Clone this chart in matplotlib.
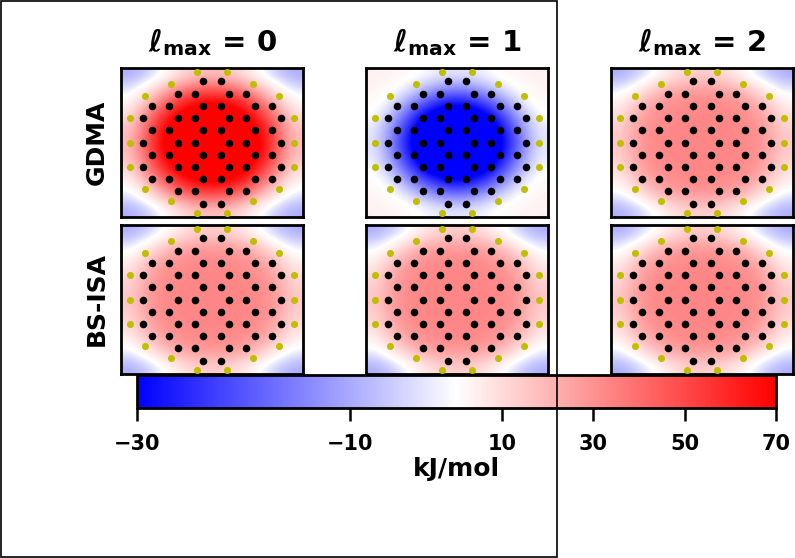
import numpy as np
import matplotlib
matplotlib.use("Agg")
import matplotlib.pyplot as plt
from matplotlib.colors import TwoSlopeNorm
from matplotlib.patches import Rectangle

# ---------------- data ----------------
col_titles = [r"$\ell_{max}$ = 0", r"$\ell_{max}$ = 1", r"$\ell_{max}$ = 2"]
row_labels = ["GDMA", "BS-ISA"]
cbar_ticks = [-30, -10, 10, 30, 50, 70]
cbar_label = "kJ/mol"

# circumcoronene atom positions (Angstrom)
carbon_x = [-0.71, 0.71,
            -2.84, -1.42, 1.42, 2.84,
            -4.97, -3.55, -0.71, 0.71, 3.55, 4.97,
            -5.68, -2.84, -1.42, 1.42, 2.84, 5.68,
            -4.97, -3.55, -0.71, 0.71, 3.55, 4.97,
            -5.68, -2.84, -1.42, 1.42, 2.84, 5.68,
            -4.97, -3.55, -0.71, 0.71, 3.55, 4.97,
            -5.68, -2.84, -1.42, 1.42, 2.84, 5.68,
            -4.97, -3.55, -0.71, 0.71, 3.55, 4.97,
            -2.84, -1.42, 1.42, 2.84,
            -0.71, 0.71]
carbon_y = [6.15] * 2 + [4.92] * 4 + [3.69] * 6 + [2.46] * 6 + [1.23] * 6 + [0.0] * 6 \
    + [-1.23] * 6 + [-2.46] * 6 + [-3.69] * 6 + [-4.92] * 4 + [-6.15] * 2
hydrogen_x = [-1.26, 1.26, -3.39, 3.39, -5.52, 5.52, -6.77, 6.77, -6.77, 6.77,
              -6.77, 6.77, -5.52, 5.52, -3.39, 3.39, -1.26, 1.26]
hydrogen_y = [7.09, 7.09, 5.86, 5.86, 4.64, 4.64, 2.46, 2.46, 0.0, 0.0,
              -2.46, -2.46, -4.64, -4.64, -5.86, -5.86, -7.09, -7.09]

# energy maps (kJ/mol), 9x9 grids over [-7.5, 7.5] x [-7.5, 7.5], top row first
gdma_l0 = [
    [-10, -6, 3, 14, 18, 14, 3, -6, -10],
    [-2, 10, 34, 50, 55, 50, 34, 10, -2],
    [5, 34, 60, 76, 82, 76, 60, 34, 5],
    [15, 50, 76, 93, 97, 93, 76, 50, 15],
    [18, 55, 82, 97, 100, 97, 82, 55, 18],
    [15, 50, 76, 93, 97, 93, 76, 50, 15],
    [5, 34, 60, 76, 82, 76, 60, 34, 5],
    [-2, 10, 34, 50, 55, 50, 34, 10, -2],
    [-10, -6, 3, 14, 18, 14, 3, -6, -10],
]
gdma_l1 = [
    [4, 3, 1, -2, -3, -2, 1, 3, 4],
    [3, -1, -8, -16, -19, -16, -8, -1, 3],
    [1, -8, -22, -31, -35, -31, -22, -8, 1],
    [-2, -16, -31, -44, -47, -44, -31, -16, -2],
    [-3, -19, -35, -47, -50, -47, -35, -19, -3],
    [-2, -16, -31, -44, -47, -44, -31, -16, -2],
    [1, -8, -22, -31, -35, -31, -22, -8, 1],
    [3, -1, -8, -16, -19, -16, -8, -1, 3],
    [4, 3, 1, -2, -3, -2, 1, 3, 4],
]
gdma_l2 = [
    [-10, -6, 2, 11, 14, 11, 2, -6, -10],
    [-1, 9, 24, 29, 30, 29, 24, 9, -1],
    [6, 24, 31, 33, 33, 33, 31, 24, 6],
    [12, 29, 33, 33, 33, 33, 33, 29, 12],
    [15, 30, 33, 33, 33, 33, 33, 30, 15],
    [12, 29, 33, 33, 33, 33, 33, 29, 12],
    [6, 24, 31, 33, 33, 33, 31, 24, 6],
    [-1, 9, 24, 29, 30, 29, 24, 9, -1],
    [-10, -6, 2, 11, 14, 11, 2, -6, -10],
]
bsisa_l0 = [row[:] for row in gdma_l2]
bsisa_l1 = [row[:] for row in gdma_l2]
bsisa_l2 = [row[:] for row in gdma_l2]

maps = [[gdma_l0, gdma_l1, gdma_l2], [bsisa_l0, bsisa_l1, bsisa_l2]]

# ---------------- figure ----------------
W, H = 795, 558
fig = plt.figure(figsize=(W / 100, H / 100), dpi=100)
plt.rcParams["mathtext.default"] = "bf"

norm = TwoSlopeNorm(vmin=-30, vcenter=0, vmax=70)
cmap = plt.get_cmap("bwr")

col_left = [121, 366, 611]
row_top = [68, 225]
pw, ph = 182, 149

im = None
for r in range(2):
    for c in range(3):
        ax = fig.add_axes([col_left[c] / W, 1 - (row_top[r] + ph) / H, pw / W, ph / H])
        im = ax.imshow(np.array(maps[r][c], dtype=float), cmap=cmap, norm=norm,
                       extent=[-7.5, 7.5, -7.5, 7.5], origin="upper",
                       interpolation="bicubic", aspect="auto")
        ax.scatter(carbon_x, carbon_y, s=30, c="black", linewidths=0, zorder=3)
        ax.scatter(hydrogen_x, hydrogen_y, s=26, c="y", linewidths=0, zorder=3)
        ax.set_xlim(-7.5, 7.5)
        ax.set_ylim(-7.5, 7.5)
        ax.set_xticks([])
        ax.set_yticks([])
        for sp in ax.spines.values():
            sp.set_linewidth(2)
            sp.set_color("black")
        if r == 0:
            ax.text(0.5, 1.114, col_titles[c], transform=ax.transAxes,
                    ha="center", va="baseline", fontsize=21, fontweight="bold")
        if c == 0:
            ax.text(-0.132, 0.5, row_labels[r], transform=ax.transAxes, rotation=90,
                    ha="center", va="center", fontsize=18, fontweight="bold")

cax = fig.add_axes([137 / W, 1 - 408 / H, 639 / W, 33 / H])
cb = fig.colorbar(im, cax=cax, orientation="horizontal", ticks=cbar_ticks)
cb.outline.set_linewidth(2)
cax.tick_params(axis="x", length=9, width=1.8, pad=10, labelsize=15)
cax.set_xticklabels([("\u2212" + str(-t)) if t < 0 else str(t) for t in cbar_ticks],
                    fontweight="bold")
cax.set_xlabel(cbar_label, fontsize=18, fontweight="bold", labelpad=2)

fig.add_artist(Rectangle((1 / W, 1 / H), 556 / W, 556 / H, transform=fig.transFigure,
                         fill=False, edgecolor="black", linewidth=1.2, zorder=10))

fig.savefig("out.png", dpi=100)
